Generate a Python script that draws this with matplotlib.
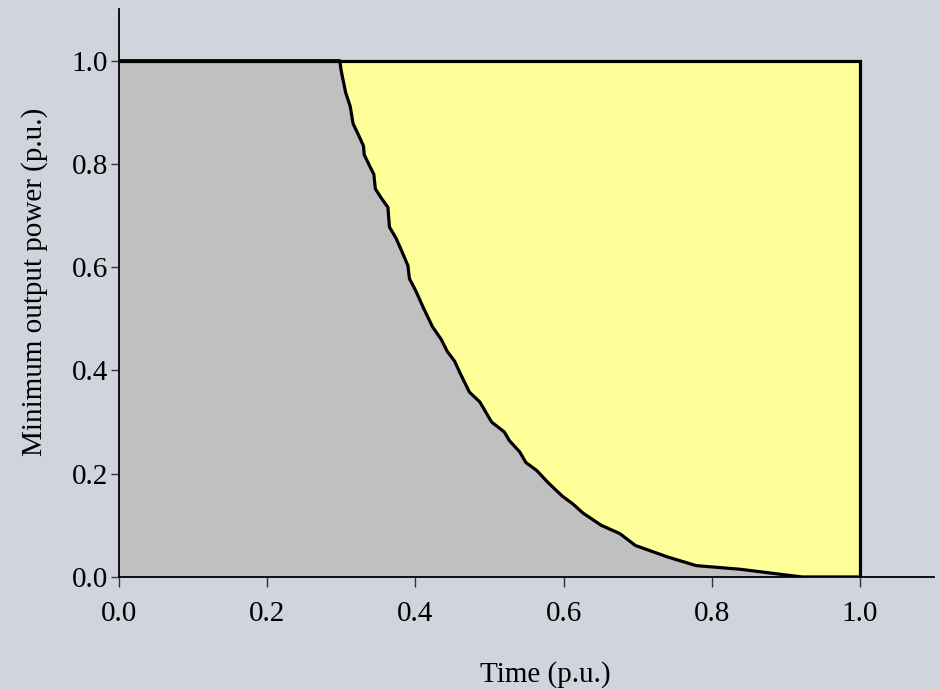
import matplotlib.pyplot as plt

# Minimum output power boundary
time_pu = [0.0, 0.298, 0.300, 0.306, 0.312, 0.316, 0.323, 0.330, 0.331, 0.338,
           0.344, 0.346, 0.354, 0.363, 0.365, 0.374, 0.382, 0.390, 0.392, 0.401,
           0.411, 0.423, 0.435, 0.443, 0.453, 0.461, 0.473, 0.487, 0.503, 0.520,
           0.527, 0.541, 0.549, 0.564, 0.579, 0.598, 0.613, 0.626, 0.651, 0.676,
           0.697, 0.740, 0.779, 0.838, 0.922, 1.0]
power_pu = [1.0, 1.0, 0.980, 0.938, 0.912, 0.878, 0.857, 0.835, 0.818, 0.797,
            0.780, 0.752, 0.734, 0.716, 0.678, 0.656, 0.630, 0.603, 0.578, 0.553,
            0.521, 0.485, 0.460, 0.437, 0.418, 0.393, 0.358, 0.339, 0.300, 0.281,
            0.264, 0.242, 0.222, 0.206, 0.183, 0.157, 0.141, 0.124, 0.100, 0.084,
            0.061, 0.039, 0.022, 0.015, 0.0, 0.0]
ticks = [0.0, 0.2, 0.4, 0.6, 0.8, 1.0]
tick_labels = ['0.0', '0.2', '0.4', '0.6', '0.8', '1.0']

bg = '#d0d4dc'
plt.rcParams['font.family'] = ['Liberation Serif', 'DejaVu Serif']

fig = plt.figure(figsize=(9.39, 6.90), dpi=100, facecolor=bg)
ax = fig.add_axes([0.1267, 0.1638, 0.868, 0.823])
ax.set_facecolor(bg)

# gray region under the curve, yellow region above it
ax.fill_between(time_pu, power_pu, 0, color='#c0c0c0', linewidth=0)
ax.fill_between(time_pu, power_pu, 1, color='#ffff99', linewidth=0)

# boundary lines
ax.plot(time_pu, power_pu, color='black', lw=2.3, solid_joinstyle='round')
ax.plot([0, 1, 1], [1, 1, 0], color='black', lw=2.3, solid_joinstyle='miter')

ax.set_xlim(0, 1.1)
ax.set_ylim(0, 1.1)
ax.set_xticks(ticks)
ax.set_xticklabels(tick_labels)
ax.set_yticks(ticks)
ax.set_yticklabels(tick_labels)

for s in ['top', 'right']:
    ax.spines[s].set_visible(False)
for s in ['left', 'bottom']:
    ax.spines[s].set_linewidth(1.3)
    ax.spines[s].set_color('black')
    ax.spines[s].set_zorder(5)

ax.tick_params(axis='x', direction='out', length=7.5, width=1, color='#333333',
               labelsize=21, pad=10)
ax.tick_params(axis='y', direction='out', length=6, width=1, color='#333333',
               labelsize=21, pad=2)

ax.set_xlabel('Time (p.u.)', fontsize=21)
ax.set_ylabel('Minimum output power (p.u.)', fontsize=21)
ax.xaxis.set_label_coords(0.523, -0.148)
ax.yaxis.set_label_coords(-0.087, 0.519)

fig.savefig('out.png', dpi=100, facecolor=bg)
